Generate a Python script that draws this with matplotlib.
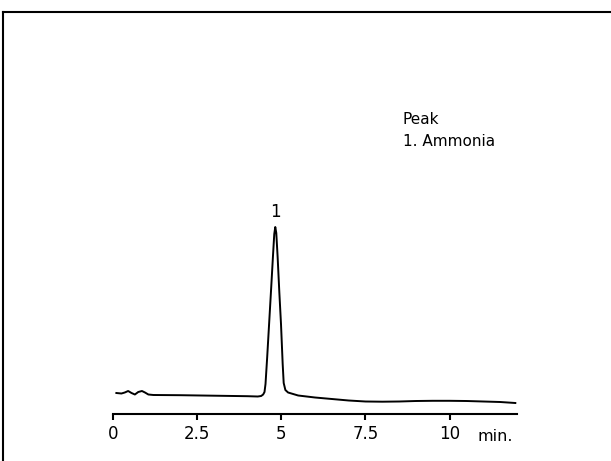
import matplotlib.pyplot as plt
from matplotlib.lines import Line2D

# chromatogram trace (min, signal)
time = [0.10, 0.25, 0.35, 0.45, 0.55, 0.65, 0.75, 0.86, 0.95, 1.05, 1.20,
        2.0, 3.0, 4.0, 4.30, 4.40, 4.46, 4.50, 4.53, 4.58, 4.64, 4.70, 4.75,
        4.79, 4.82, 4.85, 4.89, 4.94, 4.99, 5.04, 5.07, 5.12, 5.20, 5.35,
        5.50, 6.0, 6.5, 7.0, 7.5, 8.0, 8.5, 9.0, 9.5, 10.0, 10.5, 11.0,
        11.5, 11.95]
signal = [21, 20.5, 21.5, 23, 21, 19.5, 22, 23, 21.5, 19.5, 19,
          18.8, 18.3, 17.8, 17.5, 18, 19.5, 22, 30, 57, 92, 127, 157,
          180, 187, 181, 157, 122, 90, 50, 31, 24, 21.5, 20,
          18.5, 16.5, 15, 13.5, 12.5, 12.3, 12.5, 13, 13.2, 13.2, 13, 12.5,
          12, 11]

tick_pos = [0, 2.5, 5, 7.5, 10]
tick_labels = ["0", "2.5", "5", "7.5", "10"]

peak_time = 4.82
peak_label = "1"
legend_lines = ["Peak", "1. Ammonia"]

W, H = 611, 461
fig = plt.figure(figsize=(W / 100, H / 100), dpi=100)
ax = fig.add_axes([113 / W, (H - 414) / H, 404 / W, 400 / H])

ax.plot(time, signal, color="black", lw=1.4, solid_joinstyle="round")
ax.set_xlim(0, 12)
ax.set_ylim(0, 400)

for s in ["top", "right", "left"]:
    ax.spines[s].set_visible(False)
ax.spines["bottom"].set_linewidth(1.5)
ax.set_yticks([])
ax.set_xticks(tick_pos)
ax.set_xticklabels(tick_labels)
ax.tick_params(axis="x", direction="out", length=4, width=1.5, pad=4,
               labelsize=12)

ax.text(10.83, -0.068, "min.", transform=ax.get_xaxis_transform(),
        ha="left", va="baseline", fontsize=11.5)

ax.text(peak_time, 197, peak_label, ha="center", va="baseline", fontsize=12)
ax.text(8.61, 290, legend_lines[0], ha="left", va="baseline", fontsize=11)
ax.text(8.61, 268, legend_lines[1], ha="left", va="baseline", fontsize=11)

# frame lines at top and left of the page
fig.add_artist(Line2D([3 / W, 1], [1 - 12 / H, 1 - 12 / H], color="black", lw=1.5))
fig.add_artist(Line2D([3 / W, 3 / W], [0, 1 - 12 / H], color="black", lw=1.5))

fig.savefig("out.png", dpi=100)
